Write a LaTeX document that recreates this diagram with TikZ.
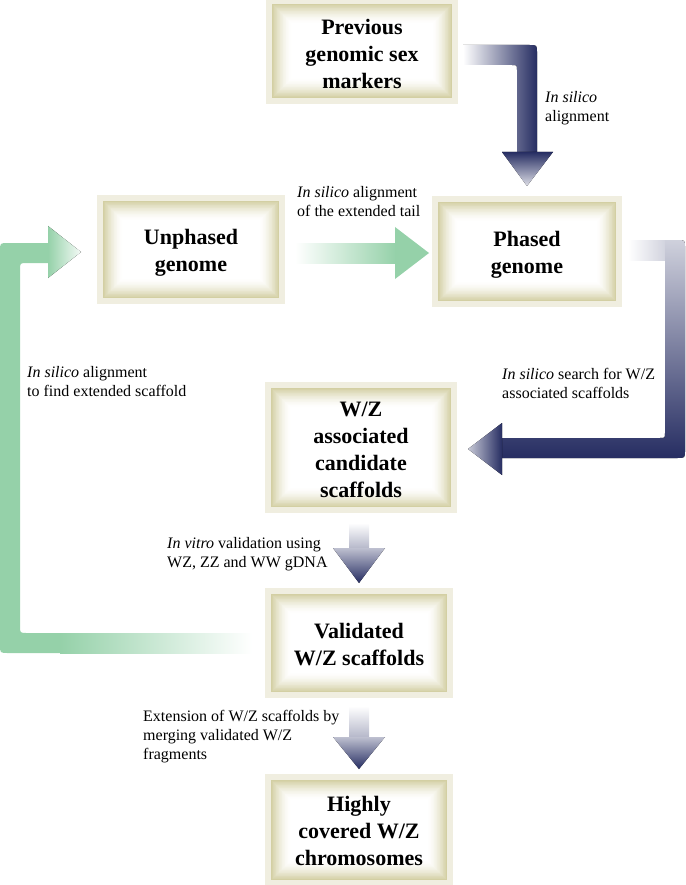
\documentclass[tikz,border=0pt]{standalone}
\usepackage{fontspec}
\setmainfont{Liberation Serif}
\definecolor{navy}{HTML}{262D62}
\definecolor{mint}{HTML}{95D1A9}
\definecolor{framec}{HTML}{F0EEE0}
\definecolor{khaki}{HTML}{D3CFA3}
\begin{document}
\begin{tikzpicture}[x=1pt,y=-1pt,
  gbox/.style={inner sep=0pt, align=center,
    font=\fontsize{22}{27}\selectfont\bfseries,
    path picture={
      \fill[framec] (path picture bounding box.south west) rectangle (path picture bounding box.north east);
      \foreach \i in {0,...,26}{
        \pgfmathsetmacro\pc{100*(1-\i/26)^1.6}
        \fill[khaki!\pc!white]
          ([shift={(6pt+\i*0.75pt,6pt+\i*0.75pt)}]path picture bounding box.south west) rectangle
          ([shift={(-6pt-\i*0.75pt,-6pt-\i*0.75pt)}]path picture bounding box.north east);
      }
    }},
  boxtext/.style={inner sep=0pt, align=center, font=\fontsize{22}{27}\selectfont\bfseries},
  lab/.style={inner sep=0pt, align=left, anchor=north west,
    font=\fontsize{16}{19}\selectfont}
]
\useasboundingbox (0,0) rectangle (685,885);

% boxes (frames)
\node[gbox, minimum width=192pt, minimum height=106pt] (prev) at (362,51) {};
\node[gbox, minimum width=188pt, minimum height=109pt] (unph) at (191,249.5) {};
\node[gbox, minimum width=190pt, minimum height=111pt] (phas) at (527,251.5) {};
\node[gbox, minimum width=192pt, minimum height=131pt] (cand) at (361,447.5) {};
\node[gbox, minimum width=188pt, minimum height=110pt] (vali) at (359,643) {};
\node[gbox, minimum width=188pt, minimum height=112pt] (high) at (359,830) {};
% box texts
\node[boxtext] (prevt) at ([yshift=-3pt]prev.center) {Previous\\genomic sex\\markers};
\node[boxtext] (unpht) at ([yshift=-3pt]unph.center) {Unphased\\genome};
\node[boxtext] (phast) at ([yshift=-3pt]phas.center) {Phased\\genome};
\node[boxtext] (candt) at ([yshift=-2pt]cand.center) {W/Z\\associated\\candidate\\scaffolds};
\node[boxtext] (valit) at ([yshift=-1.5pt]vali.center) {Validated\\W/Z scaffolds};
\node[boxtext] (hight) at ([yshift=-1pt]high.center) {Highly\\covered W/Z\\chromosomes};

% arrow previous -> phased
\fill[left color=white, right color=navy]
  (463,45) -- (529,45) .. controls (537,45) .. (537,53) -- (537,153) -- (517,153)
  -- (517,70) .. controls (517,65) .. (512,65) -- (463,65) -- cycle;
\fill[top color=navy, bottom color=navy!15!white] (502,152) -- (553,152) -- (527,186) -- cycle;

% arrow phased -> candidate
\fill[left color=white, right color=navy!22!white] (628,240) rectangle (667,260);
\fill[top color=navy!22!white, bottom color=navy]
  (665,240) -- (677,240) .. controls (685,240) .. (685,248) -- (685,450)
  .. controls (685,458) .. (677,458) -- (501,458) -- (501,438) -- (660,438)
  .. controls (665,438) .. (665,433) -- cycle;
\fill[left color=navy!25!white, right color=navy] (502,423) -- (502,475) -- (468,449) -- cycle;

% arrow unphased -> phased
\fill[left color=white, right color=mint] (295,243) rectangle (396,263);
\fill[mint] (395,227) -- (395,279) -- (429,253) -- cycle;

% loop arrow validated -> unphased
\fill[mint]
  (62,633) -- (27,633) .. controls (20,633) .. (20,626) -- (20,270)
  .. controls (20,263) .. (27,263) -- (49,263) -- (49,243) -- (8,243)
  .. controls (0,243) .. (0,251) -- (0,645) .. controls (0,653) .. (8,653) -- (62,653) -- cycle;
\fill[left color=mint, right color=white] (60,633) rectangle (252,653);
\fill[left color=mint, middle color=mint!85!white, right color=mint!10!white] (48,226) -- (48,278) -- (81,252) -- cycle;

% arrow candidate -> validated
\fill[top color=white, bottom color=navy!35!white] (349,523) rectangle (369,549);
\fill[top color=navy!30!white, bottom color=navy] (333,548) -- (385,548) -- (359,583) -- cycle;

% arrow validated -> highly
\fill[top color=white, bottom color=navy!35!white] (349,706) rectangle (369,738);
\fill[top color=navy!30!white, bottom color=navy] (333,737) -- (385,737) -- (359,769) -- cycle;

% labels
\node[lab] (l1) at (545,91) {\textit{In silico}\\alignment};
\node[lab] (l2) at (297,186) {\textit{In silico} alignment\\of the extended tail};
\node[lab] (l3) at (502,368) {\textit{In silico} search for W/Z\\associated scaffolds};
\node[lab] (l4) at (27,366) {\textit{In silico} alignment\\to find extended scaffold};
\node[lab] (l5) at (167,537) {\textit{In vitro} validation using\\WZ, ZZ and WW gDNA};
\node[lab] (l6) at (143,710) {Extension of W/Z scaffolds by\\merging validated W/Z\\fragments};
\end{tikzpicture}
\end{document}
